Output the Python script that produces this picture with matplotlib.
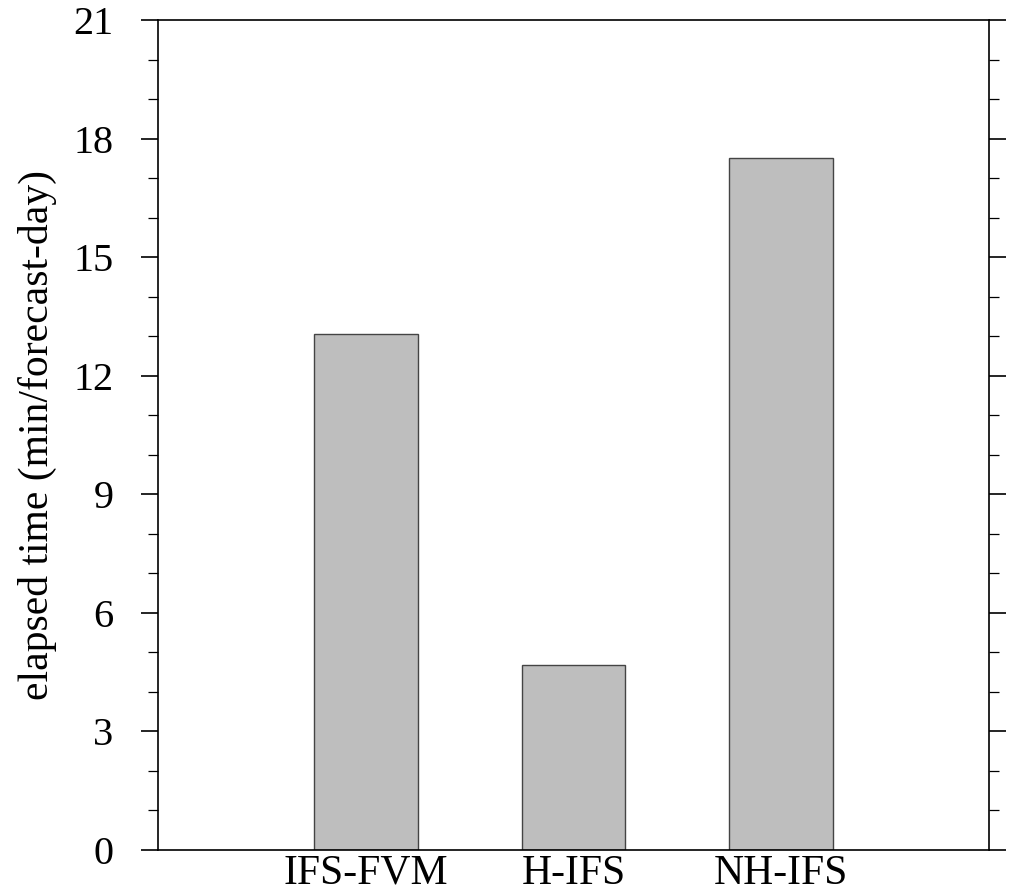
import matplotlib
matplotlib.use("Agg")
import matplotlib.pyplot as plt
from matplotlib.ticker import MultipleLocator

categories = ["IFS-FVM", "H-IFS", "NH-IFS"]
values = [13.05, 4.68, 17.5]

plt.rcParams['font.family'] = ['Liberation Serif', 'DejaVu Serif']

fig = plt.figure(figsize=(10.12, 8.93), dpi=100)
ax = fig.add_axes([158/1012, 1 - 850/893, (989-158)/1012, (850-20)/893])

x = list(range(1, len(categories) + 1))
ax.bar(x, values, width=0.5, color='#bebebe', edgecolor='#444444', linewidth=1.0)

ax.set_xlim(0, 4)
ax.set_ylim(0, 21)
ax.set_xticks(x)
ax.set_xticklabels(categories, fontsize=30)
ax.yaxis.set_major_locator(MultipleLocator(3))
ax.yaxis.set_minor_locator(MultipleLocator(1))
ax.tick_params(axis='x', length=0, pad=3)
ax.tick_params(axis='y', which='major', direction='out', length=12, width=1.2,
               labelsize=29, left=True, right=True, pad=20)
ax.tick_params(axis='y', which='minor', direction='out', length=7, width=0.9,
               left=True, right=True)
for s in ax.spines.values():
    s.set_linewidth(1.2)
ax.set_ylabel("elapsed time (min/forecast-day)", fontsize=30, labelpad=12)

fig.savefig("out.png", dpi=100)
